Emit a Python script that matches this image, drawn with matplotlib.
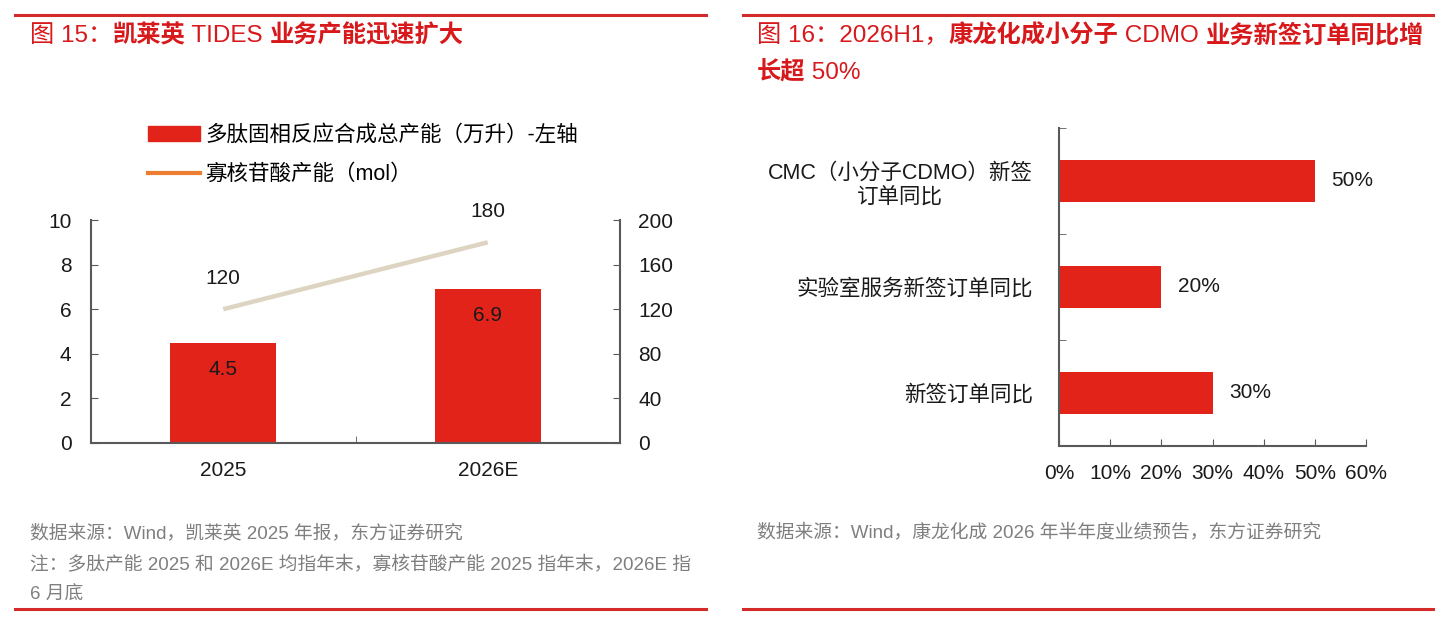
import numpy as np
import matplotlib
matplotlib.use('Agg')
import matplotlib.pyplot as plt
from matplotlib.lines import Line2D
from matplotlib.patches import Patch
from matplotlib.ticker import FuncFormatter, FixedLocator

plt.rcParams['font.family'] = ['Liberation Sans', 'Noto Sans CJK SC']
plt.rcParams['axes.unicode_minus'] = False

# ---- data ----
years = ['2025', '2026E']
peptide_cap = [4.5, 6.9]        # 万升, left axis
oligo_cap = [120, 180]          # mol, right axis

order_cats = ['CMC（小分子CDMO）新签\n订单同比', '实验室服务新签订单同比', '新签订单同比']
order_growth = [0.50, 0.20, 0.30]

W, H = 1439, 621
RED = '#E2231A'
TITLE_RED = '#D7191C'
LINE_RED = '#D42A2A'
BEIGE = '#DDD5C2'
ORANGE = '#ED7D31'
GREY = '#7F7F7F'
AX = '#595959'
TXT = '#1a1a1a'


def fx(x):
    return x / W


def fy(y):
    return 1 - y / H


fig = plt.figure(figsize=(W / 100, H / 100), dpi=100)
renderer = fig.canvas.get_renderer()


def title_line(x, y, parts, size=17.5):
    # draw text pieces one after another, CJK parts bold, latin parts regular
    for s, bold in parts:
        t = fig.text(fx(x), fy(y), s, color=TITLE_RED, fontsize=size,
                     fontweight='bold' if bold else 'normal', va='center', ha='left')
        x += t.get_window_extent(renderer).width


# red rules
for x0, x1 in [(15, 706), (743, 1433)]:
    for y in (15, 609):
        fig.add_artist(Line2D([fx(x0), fx(x1)], [fy(y), fy(y)], transform=fig.transFigure,
                              color=LINE_RED, lw=2.2))

# titles
title_line(30, 36, [('图 15：', False), ('凯莱英', True), (' TIDES ', False),
                    ('业务产能迅速扩大', True)])
title_line(757, 36, [('图 16：2026H1，', False), ('康龙化成小分子', True), (' CDMO ', False),
                     ('业务新签订单同比增', True)])
title_line(757, 73, [('长超', True), (' 50%', False)])

# footers
fig.text(fx(30), fy(533), '数据来源：Wind，凯莱英 2025 年报，东方证券研究', color=GREY,
         fontsize=13.5, va='center')
fig.text(fx(30), fy(565), '注：多肽产能 2025 和 2026E 均指年末，寡核苷酸产能 2025 指年末，2026E 指',
         color=GREY, fontsize=13.5, va='center')
fig.text(fx(30), fy(595), '6 月底', color=GREY, fontsize=13.5, va='center')
fig.text(fx(757), fy(533), '数据来源：Wind，康龙化成 2026 年半年度业绩预告，东方证券研究', color=GREY,
         fontsize=13.5, va='center')

# ---- left chart ----
ax = fig.add_axes([fx(91), fy(443), fx(620) - fx(91), fy(220) - fy(443)])
xpos = np.arange(len(years))
bars = ax.bar(xpos, peptide_cap, width=0.4, color=RED, zorder=2)
ax.set_xlim(-0.5, 1.5)
ax.set_ylim(0, 10)
ax.set_yticks(np.arange(0, 11, 2))
ax.set_xticks(xpos)
ax.set_xticklabels(years)
ax.xaxis.set_minor_locator(FixedLocator([0.5]))
ax.tick_params(axis='x', which='major', length=0, pad=13, labelsize=15, colors=TXT)
ax.tick_params(axis='x', which='minor', length=5, direction='in', color=AX)
ax.tick_params(axis='y', length=5, direction='in', pad=14, labelsize=15, color=AX, labelcolor=TXT)
for s in ('top', 'right'):
    ax.spines[s].set_visible(False)
for s in ('left', 'bottom'):
    ax.spines[s].set_color(AX)
    ax.spines[s].set_linewidth(1.5)
for b, v in zip(bars, peptide_cap):
    ax.annotate(f'{v}', (b.get_x() + b.get_width() / 2, v), xytext=(0, -19),
                textcoords='offset points', ha='center', va='center', fontsize=15, color=TXT)

ax2 = ax.twinx()
ax2.plot(xpos, oligo_cap, color=BEIGE, lw=3.2, solid_capstyle='butt', zorder=3)
ax2.set_ylim(0, 200)
ax2.set_yticks(np.arange(0, 201, 40))
ax2.tick_params(axis='y', length=5, direction='in', pad=13, labelsize=15, color=AX, labelcolor=TXT)
for s in ('top', 'left', 'bottom'):
    ax2.spines[s].set_visible(False)
ax2.spines['right'].set_color(AX)
ax2.spines['right'].set_linewidth(1.5)
for x, v in zip(xpos, oligo_cap):
    ax2.annotate(f'{v}', (x, v), xytext=(0, 22), textcoords='offset points',
                 ha='center', va='center', fontsize=15, color=TXT)

handles = [Patch(color=RED, label='多肽固相反应合成总产能（万升）-左轴'),
           Line2D([], [], color=ORANGE, lw=3, label='寡核苷酸产能（mol）')]
fig.legend(handles=handles, loc='upper left', bbox_to_anchor=(fx(148), fy(125)),
           frameon=False, fontsize=15.5, handlelength=2.4, handletextpad=0.25,
           labelspacing=0.85, borderpad=0, borderaxespad=0)

# ---- right chart ----
bx = fig.add_axes([fx(1059), fy(446), fx(1366) - fx(1059), fy(128) - fy(446)])
ypos = np.arange(len(order_cats))
hb = bx.barh(ypos, order_growth, height=0.4, color=RED, zorder=2)
bx.set_xlim(0, 0.6)
bx.set_ylim(2.5, -0.5)
bx.set_xticks(np.arange(0, 0.61, 0.1))
bx.xaxis.set_major_formatter(FuncFormatter(lambda v, p: f'{v * 100:.0f}%'))
bx.set_yticks(ypos)
bx.set_yticklabels(order_cats, multialignment='center')
bx.yaxis.set_minor_locator(FixedLocator([-0.5, 0.5, 1.5]))
bx.tick_params(axis='y', which='major', length=0, pad=19, labelsize=15.5, colors=TXT)
bx.tick_params(axis='y', which='minor', length=5, direction='in', color=AX)
bx.tick_params(axis='x', length=5, direction='in', pad=13, labelsize=15, color=AX, labelcolor=TXT)
for s in ('top', 'right'):
    bx.spines[s].set_visible(False)
for s in ('left', 'bottom'):
    bx.spines[s].set_color(AX)
    bx.spines[s].set_linewidth(1.5)
for y, v in zip(ypos, order_growth):
    bx.annotate(f'{v * 100:.0f}%', (v, y), xytext=(12, 0), textcoords='offset points',
                ha='left', va='center', fontsize=15, color=TXT)

fig.savefig('out.png', dpi=100)
